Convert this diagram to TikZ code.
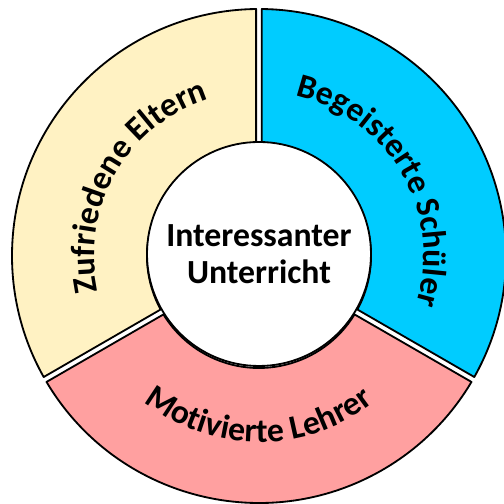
\documentclass[tikz,border=0pt]{standalone}
\usepackage{fontspec}
\setmainfont{Carlito}
\usetikzlibrary{decorations.text}
\definecolor{gelb}{RGB}{255,242,195}
\definecolor{blau}{RGB}{0,204,255}
\definecolor{rosa}{RGB}{255,160,160}
\newcommand{\ringfont}{\bfseries\fontsize{24}{28}\selectfont}
\tikzset{segment/.style={draw=black,line width=1.3pt,line join=round},
  ringtext/.style={decorate,decoration={text along path,text align=center,
    text={|\ringfont|#1}}}}
\begin{document}
\begin{tikzpicture}[line width=1.3pt]
\useasboundingbox(-6.475,-6.2)rectangle(6.125,6.4);
\def\R{6.175}\def\r{2.8}\def\gap{0.071}
\pgfmathsetmacro\dO{asin(\gap/\R)}
\pgfmathsetmacro\dI{asin(\gap/\r)}
% drei Ringsegmente
\foreach \a/\b/\farbe in {90/210/gelb,-30/90/blau,210/330/rosa}{
  \draw[segment,fill=\farbe](\a+\dO:\R)arc[start angle=\a+\dO,end angle=\b-\dO,radius=\R]
    --(\b-\dI:\r)arc[start angle=\b-\dI,end angle=\a+\dI,radius=\r]--cycle;
}
\node[circle,draw,fill=white,minimum size=5.6cm,inner sep=0pt,align=center,
  font=\bfseries\fontsize{24}{26}\selectfont](mitte)at(0,0.05){Interessanter\\Unterricht};
% Beschriftung entlang der Bögen
\path[ringtext=Zufriedene Eltern](210:4.12)arc[start angle=210,end angle=90,radius=4.12];
\path[ringtext=Begeisterte Schüler](90:4.12)arc[start angle=90,end angle=-30,radius=4.12];
\path[ringtext=Motivierte Lehrer](210:4.65)arc[start angle=210,end angle=330,radius=4.65];
\end{tikzpicture}
\end{document}
